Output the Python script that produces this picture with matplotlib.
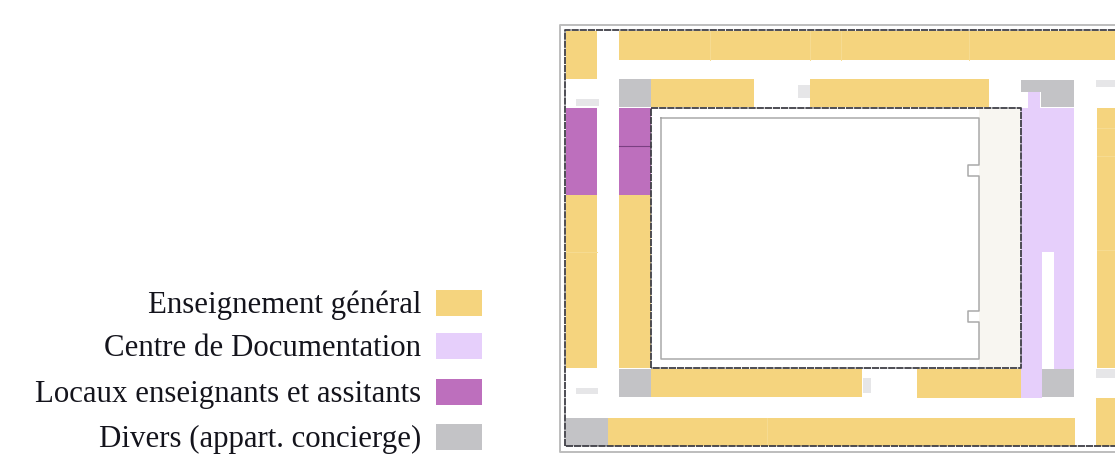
import matplotlib
matplotlib.use("Agg")
import matplotlib.pyplot as plt
from matplotlib.patches import Rectangle

# Floor plan, in image pixels: (left, top, right, bottom)
general_rooms = [
    (566, 31, 597, 79), (619, 31, 1115, 60), (651, 79, 754, 107), (810, 79, 989, 107),
    (566, 195, 597, 368), (619, 195, 651, 368), (651, 369, 862, 397), (917, 369, 1021, 398),
    (608, 418, 1075, 446), (1097, 108, 1115, 368), (1096, 398, 1115, 446),
]
documentation_rooms = [
    (1021, 108, 1074, 252), (1021, 252, 1042, 398), (1054, 252, 1074, 369), (1028, 92, 1040, 108),
]
staff_rooms = [(566, 108, 597, 195), (619, 108, 651, 195)]
misc_rooms = [
    (619, 79, 651, 107), (619, 369, 651, 397), (566, 418, 608, 446), (1042, 369, 1074, 397),
    (1041, 80, 1074, 107), (1021, 80, 1041, 92),
]
faint_rooms = [
    (576, 99, 599, 106), (576, 388, 598, 394), (798, 85, 810, 98), (863, 378, 871, 393),
    (1096, 80, 1115, 87), (1096, 369, 1115, 378),
]
court_frame = (651, 108, 1021, 368)
court_side = (979, 109, 1020, 367)
court_outline_x = [661, 979, 979, 968, 968, 979, 979, 968, 968, 979, 979, 661, 661]
court_outline_y = [118, 118, 165, 165, 176, 176, 311, 311, 322, 322, 359, 359, 118]
staff_divider_y = 146
# Faint partitions between rooms: (x0, y0, x1, y1)
partitions = [
    (710, 31, 710, 60), (810, 31, 810, 60), (841, 31, 841, 60), (969, 31, 969, 60),
    (767, 418, 767, 446), (1097, 128, 1115, 128), (1097, 156, 1115, 156), (1097, 250, 1115, 250),
    (566, 252, 597, 252),
]

legend_labels = ["Enseignement général", "Centre de Documentation",
                 "Locaux enseignants et assitants", "Divers (appart. concierge)"]
legend_baselines = [313, 356, 402, 447]
legend_swatch_tops = [290, 333, 379, 424]

YELLOW, LILAC, MAUVE, GREY = "#f5d47e", "#e6cffb", "#bd6fbd", "#c3c3c6"
FAINT = "#e6e6e8"

fig = plt.figure(figsize=(11.15, 4.61), dpi=100)
ax = fig.add_axes([0, 0, 1, 1])
ax.set_xlim(0, 1115)
ax.set_ylim(461, 0)
ax.axis("off")


def rooms(items, color, z=2):
    for x0, y0, x1, y1 in items:
        ax.add_patch(Rectangle((x0, y0), x1 - x0, y1 - y0, fc=color, ec="none", zorder=z))


rooms([court_side], "#f8f6f1", 1)
rooms(general_rooms, YELLOW)
rooms(documentation_rooms, LILAC)
rooms(staff_rooms, MAUVE)
rooms(misc_rooms, GREY)
rooms(faint_rooms, FAINT)

for x0, y0, x1, y1 in partitions:
    ax.plot([x0, x1], [y0, y1], color="#f7dc92", lw=0.7, zorder=2.5)

ax.plot(court_outline_x, court_outline_y, color="#a9a9a9", lw=1.1, zorder=3)
ax.plot([619, 651], [staff_divider_y] * 2, color="#7a3f82", lw=0.8, zorder=3)

# Outer wall and dark dashed building outline, open on the right where the plan is cropped
ax.plot([1115, 559.5, 559.5, 1115], [25, 25, 452, 452], color="#bdbdbd", lw=1.4, zorder=3)
dash = dict(color="#3f3f46", lw=1.3, zorder=4, ls=(0, (4, 0.5)))
ax.plot([1115, 565, 565, 1115], [30, 30, 446, 446], **dash)
fx0, fy0, fx1, fy1 = court_frame
ax.plot([fx0, fx0, fx1, fx1, fx0], [fy1, fy0, fy0, fy1, fy1], **dash)

for label, base, top, color in zip(legend_labels, legend_baselines, legend_swatch_tops,
                                   [YELLOW, LILAC, MAUVE, GREY]):
    ax.text(421, base, label, ha="right", va="baseline", family="Liberation Serif",
            fontsize=22.2, color="#14141c")
    ax.add_patch(Rectangle((436, top), 46, 26, fc=color, ec="none"))

fig.savefig("out.png", dpi=100)
